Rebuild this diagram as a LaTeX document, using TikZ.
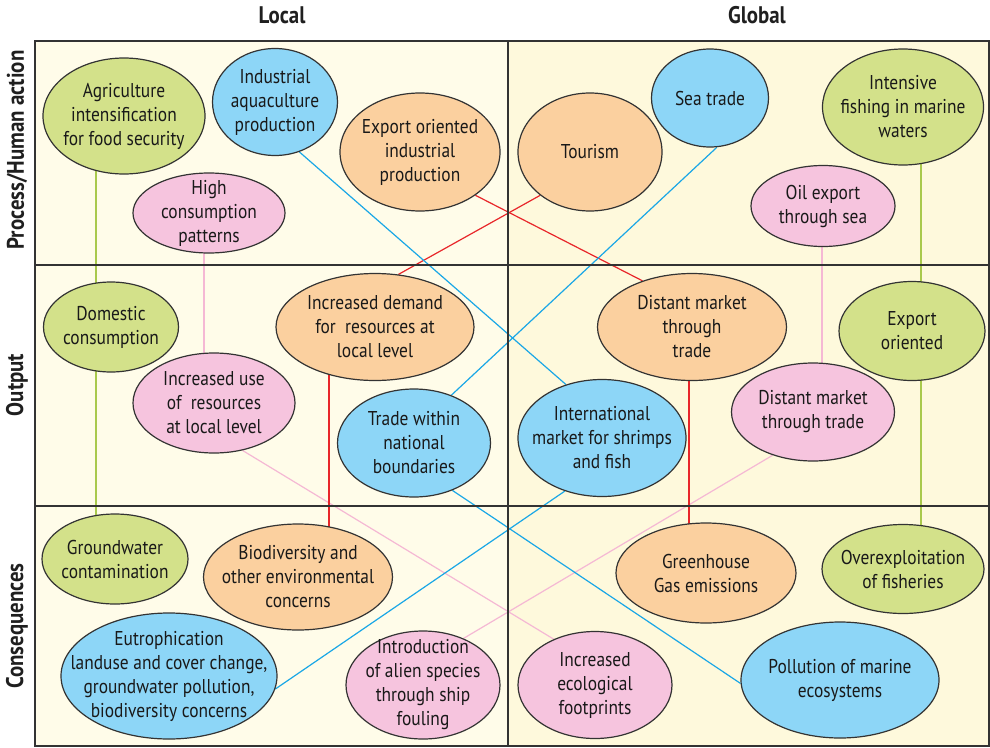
\documentclass[tikz,border=0pt]{standalone}
\usepackage{fontspec}
\setmainfont{PT Sans}[FakeStretch=0.87]
\usetikzlibrary{shapes.geometric}
\pgfdeclarelayer{bg}
\pgfdeclarelayer{links}
\pgfsetlayers{bg,links,main}

\definecolor{cgreen}{HTML}{D3E18A}
\definecolor{corange}{HTML}{FBD09F}
\definecolor{cblue}{HTML}{8DD6F7}
\definecolor{cpink}{HTML}{F6C4DE}
\definecolor{lgreen}{HTML}{A9C94C}
\definecolor{lred}{HTML}{E8262A}
\definecolor{lblue}{HTML}{1AA7E6}
\definecolor{lpink}{HTML}{F5B8D4}
\definecolor{frame}{HTML}{333333}
\definecolor{paperL}{HTML}{FFFCE9}
\definecolor{paperR}{HTML}{FEF9DC}

\tikzset{
  bubble/.style={ellipse, draw=frame, line width=1.2pt, inner sep=0pt},
  gb/.style={bubble, fill=cgreen},
  ob/.style={bubble, fill=corange},
  bb/.style={bubble, fill=cblue},
  pb/.style={bubble, fill=cpink},
  btext/.style={align=center, inner sep=0pt, text=black!90,
    font=\fontsize{20}{24}\selectfont},
  head/.style={font=\bfseries\fontsize{24}{26}\selectfont, text=black!88},
  gridline/.style={draw=frame, line width=1.5pt},
  glink/.style={draw=lgreen, line width=1.2pt},
  rlink/.style={draw=lred, line width=1.2pt},
  blink/.style={draw=lblue, line width=1.2pt},
  plink/.style={draw=lpink, line width=1.2pt},
}

% bubble: style, name, centre, width, height, text
\newcommand{\bub}[6]{%
  \node[#1, minimum width=#4pt, minimum height=#5pt] (#2) at (#3) {};
  \node[btext] (#2-txt) at (#2) {#6};}

\begin{document}
\begin{tikzpicture}[x=1pt, y=-1pt]
\useasboundingbox (0,0) rectangle (990,747);

% panel background and grid
\begin{pgfonlayer}{bg}
  \fill[paperL] (35,41) rectangle (508,746);
  \fill[paperR] (508,41) rectangle (989,746);
\end{pgfonlayer}
\draw[gridline] (35,41) rectangle (989,746);
\draw[gridline] (508,41) -- (508,746);
\draw[gridline] (35,265) -- (989,265);
\draw[gridline] (35,506) -- (989,506);

% column and row headings
\node[head] (hlocal) at (282,15) {Local};
\node[head] (hglobal) at (757,15) {Global};
\node[head, rotate=90] (hproc) at (17,150) {Process/Human action};
\node[head, rotate=90] (hout) at (17,385) {Output};
\node[head, rotate=90] (hcons) at (17,626) {Consequences};

% process / human action
\bub{gb}{agri}{124,116}{162}{116}{Agriculture\\intensification\\for food security}
\bub{bb}{aqua}{275,102}{125}{107}{Industrial\\aquaculture\\production}
\bub{ob}{expind}{420,152}{160}{118}{Export oriented\\industrial\\production}
\bub{pb}{highc}{209,213}{152}{80}{High\\consumption\\patterns}
\bub{ob}{tour}{590,152}{144}{118}{Tourism}
\bub{bb}{sea}{710,98}{117}{98}{Sea trade}
\bub{gb}{fish}{903,107}{161}{116}{Intensive\\fishing in marine\\waters}
\bub{pb}{oil}{823,206}{144}{81}{Oil export\\through sea}

% output
\bub{gb}{dom}{111,327}{135}{90}{Domestic\\consumption}
\bub{pb}{incuse}{214,403}{162}{100}{Increased use\\of~ resources\\at local level}
\bub{ob}{demand}{375,327}{198}{107}{Increased demand\\for~ resources at\\local level}
\bub{bb}{natl}{414,443}{153}{108}{Trade within\\national\\boundaries}
\bub{ob}{distO}{692,327}{189}{107}{Distant market\\through\\trade}
\bub{bb}{intl}{602,438}{168}{117}{International\\market for shrimps\\and fish}
\bub{pb}{distP}{813,412}{163}{98}{Distant market\\through trade}
\bub{gb}{expo}{912,331}{146}{99}{Export\\oriented}

% consequences
\bub{gb}{gw}{115,559}{146}{90}{Groundwater\\contamination}
\bub{ob}{bio}{298,577}{189}{106}{Biodiversity and\\other environmental\\concerns}
\bub{bb}{eutro}{169,676}{216}{126}{Eutrophication\\landuse and cover change,\\groundwater pollution,\\biodiversity concerns}
\bub{pb}{alien}{423,685}{154}{108}{Introduction\\of alien species\\through ship\\fouling}
\bub{ob}{ghg}{706,573}{180}{100}{Greenhouse\\Gas emissions}
\bub{gb}{overx}{903,569}{162}{89}{Overexploitation\\of fisheries}
\bub{pb}{foot}{595,685}{154}{107}{Increased\\ecological\\footprints}
\bub{bb}{poll}{840,680}{198}{116}{Pollution of marine\\ecosystems}

% x positions of the vertical links
\coordinate (xg1) at (96,0);
\coordinate (xg2) at (921,0);
\coordinate (xp1) at (204,0);
\coordinate (xp2) at (822,0);
\coordinate (xr1) at (329,0);
\coordinate (xr2) at (689,0);

\begin{pgfonlayer}{links}
  % green chains
  \draw[glink] (agri.center -| xg1) -- (gw.center -| xg1);
  \draw[glink] (fish.center -| xg2) -- (overx.center -| xg2);
  % pink links
  \draw[plink] (highc.center -| xp1) -- (incuse.center -| xp1);
  \draw[plink] (oil.center -| xp2) -- (distP.center -| xp2);
  \draw[plink] (incuse.-59) -- (foot.132);
  \draw[plink] (distP.-133) -- (alien.49);
  % red links
  \draw[rlink] (expind.-38) -- (distO.137);
  \draw[rlink] (tour.-139) -- (demand.66);
  \draw[rlink] (demand.center -| xr1) -- (bio.center -| xr1);
  \draw[rlink] (distO.center -| xr2) -- (ghg.center -| xr2);
  % blue links
  \draw[blink] (aqua.-64) -- (intl.124);
  \draw[blink] (sea.-82) -- (natl.52);
  \draw[blink] (natl.-51) -- (poll.182);
  \draw[blink] (intl.-125) -- (eutro.-7);
\end{pgfonlayer}
\end{tikzpicture}
\end{document}
